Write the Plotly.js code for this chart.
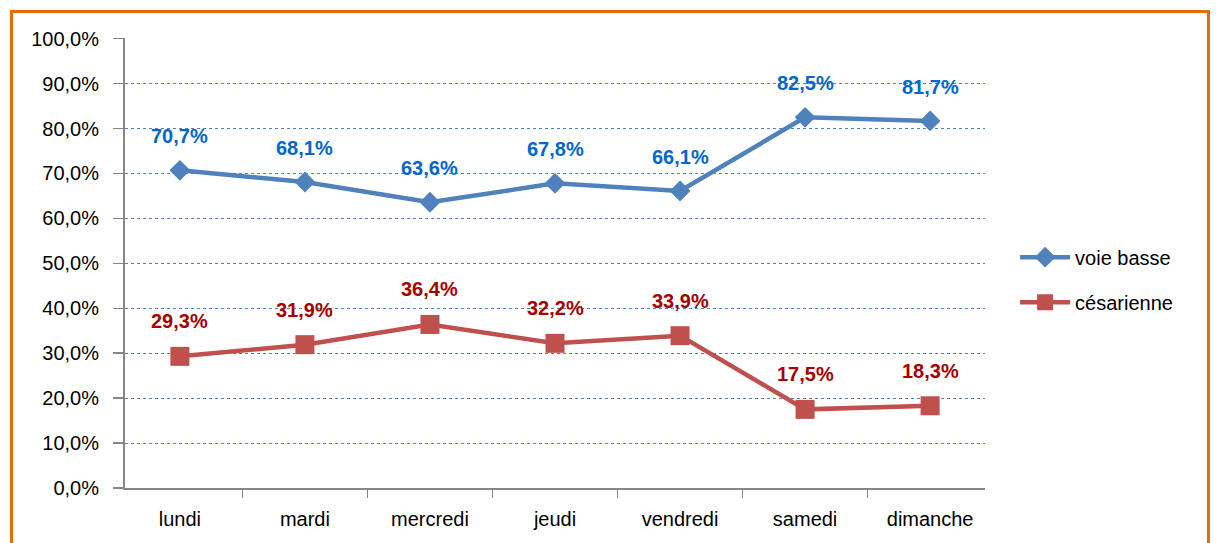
<!DOCTYPE html>
<html>
<head>
<meta charset="utf-8">
<script src="https://cdn.plot.ly/plotly-3.0.1.min.js"></script>
<style>
html,body{margin:0;padding:0;background:#fff;width:1217px;height:543px;overflow:hidden;}
#frame{position:absolute;left:10px;top:10px;width:1200px;height:560px;border:3px solid #E46C0A;box-sizing:border-box;}
#chart{position:absolute;left:0;top:0;width:1217px;height:543px;}
</style>
</head>
<body>
<div id="frame"></div>
<div id="chart"></div>
<script>
var days = ["lundi","mardi","mercredi","jeudi","vendredi","samedi","dimanche"];
var voieBasse = [70.7, 68.1, 63.6, 67.8, 66.1, 82.5, 81.7];
var cesarienne = [29.3, 31.9, 36.4, 32.2, 33.9, 17.5, 18.3];
var yTickVals = [0,10,20,30,40,50,60,70,80,90,100];
var yTickText = ["0,0%","10,0%","20,0%","30,0%","40,0%","50,0%","60,0%","70,0%","80,0%","90,0%","100,0%"];

function fmt(v){ return v.toFixed(1).replace(".", ",") + "%"; }

var font = "'Liberation Sans', Arial, sans-serif";

var traces = [
  {x: days, y: voieBasse, name: "voie basse", type: "scatter", mode: "lines+markers", legendgroup: "a",
   line: {color: "#4F81BD", width: 4.5}, marker: {symbol: "diamond", size: 16, color: "#4F81BD"}},
  {x: days, y: cesarienne, name: "césarienne", type: "scatter", mode: "lines+markers", legendgroup: "b",
   line: {color: "#C0504D", width: 4.5}, marker: {symbol: "square", size: 19, color: "#C0504D"}}
];

var annotations = [];
days.forEach(function(d, i){
  annotations.push({x: d, y: voieBasse[i], xref: "x", yref: "y", text: fmt(voieBasse[i]), showarrow: false,
    yshift: 34, font: {family: font, size: 20, color: "#0066CC", weight: "bold"}});
  annotations.push({x: d, y: cesarienne[i], xref: "x", yref: "y", text: fmt(cesarienne[i]), showarrow: false,
    yshift: 35, font: {family: font, size: 20, color: "#A50000", weight: "bold"}});
});

var layout = {
  width: 1217, height: 543,
  margin: {l: 125, r: 232, t: 38, b: 55, pad: 0},
  paper_bgcolor: "rgba(0,0,0,0)", plot_bgcolor: "rgba(0,0,0,0)",
  font: {family: font, size: 20, color: "#000"},
  showlegend: true,
  legend: {x: 1.035, y: 0.463, xanchor: "left", yanchor: "middle", font: {family: font, size: 20, color: "#000"},
    traceorder: "grouped", tracegroupgap: 16, itemwidth: 50, bgcolor: "rgba(0,0,0,0)"},
  xaxis: {type: "category", showline: true, linecolor: "#868686", linewidth: 2, showgrid: false,
    ticks: "outside", tickson: "boundaries", ticklen: 8, tickcolor: "#868686", tickwidth: 1.5,
    ticklabelstandoff: 12,
    tickfont: {family: font, size: 20, color: "#000"}, zeroline: false, fixedrange: true},
  yaxis: {range: [0, 100.15], tickvals: yTickVals, ticktext: yTickText, showline: true, linecolor: "#868686", linewidth: 2,
    showgrid: true, gridcolor: "#4F81BD", gridwidth: 1, griddash: "dot", ticks: "outside", ticklen: 10,
    ticklabelstandoff: 10,
    tickcolor: "#868686", tickwidth: 1.5, zeroline: false, tickfont: {family: font, size: 20, color: "#000"}, fixedrange: true},
  annotations: annotations
};

Plotly.newPlot("chart", traces, layout, {displayModeBar: false, staticPlot: true});
</script>
</body>
</html>
